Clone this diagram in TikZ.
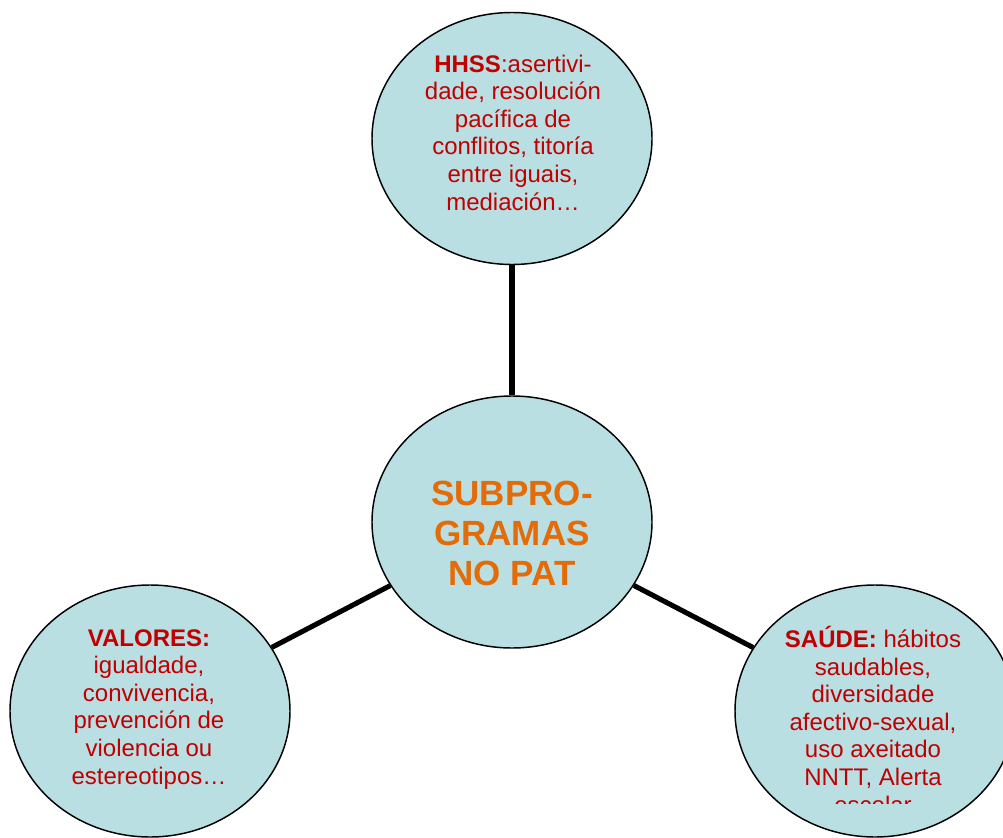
\documentclass[tikz,border=0pt]{standalone}
\usepackage{fontspec}
\setmainfont{Liberation Sans}
\usetikzlibrary{shapes.geometric}
\definecolor{bubble}{RGB}{185,223,227}
\definecolor{darkred}{RGB}{192,0,0}
\definecolor{orangetxt}{RGB}{227,108,9}
\tikzset{
  bubble/.style={ellipse, draw=black, line width=1.1pt, fill=bubble,
    minimum width=210pt, minimum height=189pt, inner sep=0pt},
  link/.style={line width=3.8pt, black},
  smalltxt/.style={align=center, text=darkred, anchor=base,
    font=\fontsize{18}{20.7}\selectfont, inner sep=0pt},
  bigtxt/.style={align=center, text=orangetxt, anchor=base,
    font=\fontsize{26.25}{30}\selectfont\bfseries, inner sep=0pt}
}
\begin{document}
\begin{tikzpicture}[x=0.75pt,y=-0.75pt]
\useasboundingbox (0,0) rectangle (1003,838);
% ellipses
\node[bubble] (top) at (512,138.5) {};
\node[bubble] (center) at (512,522) {};
\node[bubble] (left) at (150,711) {};
\node[bubble] (right) at (875,711) {};
% connectors
\draw[link] (center) -- (top);
\draw[link] (center) -- (left);
\draw[link] (center) -- (right);
% texts (anchored at the baseline of their last line)
\node[smalltxt] (toptxt) at (513,210) {\textbf{HHSS}:asertivi-\\dade, resolución\\pacífica de\\conflitos, titoría\\entre iguais,\\mediación…};
\node[bigtxt] (centertxt) at (512,585) {SUBPRO-\\GRAMAS\\NO PAT};
\node[smalltxt] (lefttxt) at (149,784) {\textbf{VALORES:}\\igualdade,\\convivencia,\\prevención de\\violencia ou\\estereotipos…};
\begin{scope}
\clip (700,560) rectangle (1003,803);
\node[smalltxt] (righttxt) at (873,813) {\textbf{SAÚDE:} hábitos\\saudables,\\diversidade\\afectivo-sexual,\\uso axeitado\\NNTT, Alerta\\escolar};
\end{scope}
\end{tikzpicture}
\end{document}
